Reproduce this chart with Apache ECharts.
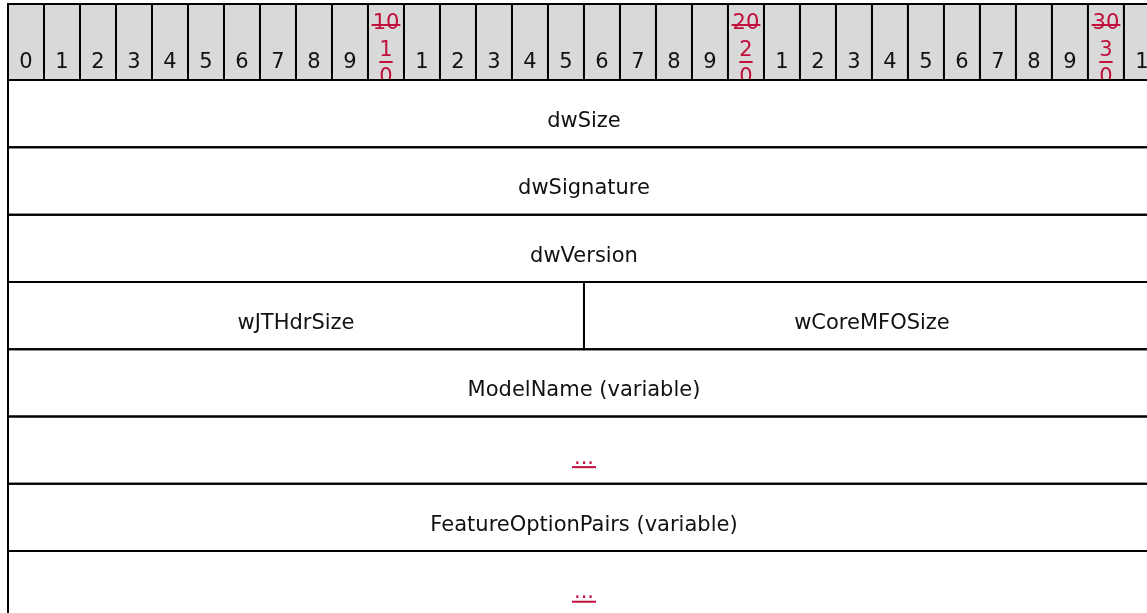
<!DOCTYPE html>
<html><head><meta charset="utf-8">
<script src="https://cdn.jsdelivr.net/npm/echarts@6/dist/echarts.min.js"></script>
<style>html,body{margin:0;padding:0;background:#fff;overflow:hidden}#c{width:1147px;height:613px}</style>
</head><body><div id="c"></div><script>
// ---- data ----
const bitLabels = ['0','1','2','3','4','5','6','7','8','9','10','1','2','3','4','5','6','7','8','9','20','1','2','3','4','5','6','7','8','9','30','1'];
const revisedBitCells = [10, 20, 30];
const fieldNames = ['dwSize','dwSignature','dwVersion','wJTHdrSize','wCoreMFOSize','ModelName (variable)','...','FeatureOptionPairs (variable)','...'];
const fieldRows = [0, 1, 2, 3, 3, 4, 5, 6, 7];
const fieldStartBits = [0, 0, 0, 0, 16, 0, 0, 0, 0];
const fieldBitWidths = [32, 32, 32, 16, 16, 32, 32, 32, 32];
const fieldIsLink = [false, false, false, false, false, false, true, false, true];

// ---- style ----
const FONT = '"DejaVu Sans", Verdana, sans-serif';
const BODY_SIZE = 21, HEAD_SIZE = 21;
const RED = '#c0103c';
const TEXT = '#111';
const HEAD_BG = '#d9d9d9';
const Y_MIN = -1.13, Y_MAX = 7.92;
const X_MAX = 31.64; // visible part of the 32-bit wide diagram

const mctx = document.createElement('canvas').getContext('2d');
function textW(t, size) { mctx.font = size + 'px ' + FONT; return mctx.measureText(t).width; }

function renderHeader(params, api) {
  const i = api.value(0);
  const label = bitLabels[i];
  const tl = api.coord([i, Y_MIN]);
  const br = api.coord([i + 1, 0]);
  const x0 = tl[0], y0 = tl[1], w = br[0] - tl[0], h = br[1] - tl[1];
  const cx = x0 + w / 2;
  const children = [{ type: 'rect', shape: { x: x0, y: y0, width: w, height: h }, style: { fill: HEAD_BG, stroke: null } }];
  const font = HEAD_SIZE + 'px ' + FONT;
  if (revisedBitCells.indexOf(i) >= 0) {
    const tw = textW(label, HEAD_SIZE);
    const l1 = y0 + 20, l2 = y0 + 47, l3 = y0 + 74;
    children.push({ type: 'text', style: { text: label, x: cx, y: l1, align: 'center', verticalAlign: 'middle', font: font, fill: RED } });
    children.push({ type: 'line', shape: { x1: cx - tw / 2 - 1, y1: l1 + 1, x2: cx + tw / 2 + 1, y2: l1 + 1 }, style: { stroke: RED, lineWidth: 2 } });
    const c1 = label.charAt(0), c2 = label.charAt(1);
    const w1 = textW(c1, HEAD_SIZE);
    children.push({ type: 'text', style: { text: c1, x: cx, y: l2, align: 'center', verticalAlign: 'middle', font: font, fill: RED } });
    children.push({ type: 'line', shape: { x1: cx - w1 / 2, y1: l2 + 11, x2: cx + w1 / 2, y2: l2 + 11 }, style: { stroke: RED, lineWidth: 2 } });
    children.push({ type: 'text', style: { text: c2, x: cx, y: l3, align: 'center', verticalAlign: 'middle', font: font, fill: RED } });
    children.push({ type: 'rect', shape: { x: x0 - 1, y: br[1], width: w + 2, height: 10 }, style: { fill: '#fff', stroke: null } });
  } else {
    children.push({ type: 'text', style: { text: label, x: cx, y: br[1] - 17, align: 'center', verticalAlign: 'middle', font: font, fill: TEXT } });
  }
  children.push({ type: 'rect', shape: { x: x0, y: y0, width: w, height: h }, style: { fill: null, stroke: '#000', lineWidth: 2 } });
  return { type: 'group', children: children };
}

function renderField(params, api) {
  const idx = params.dataIndex;
  const s = api.value(0), r = api.value(1), wb = api.value(2);
  const tl = api.coord([s, r]);
  const br = api.coord([s + wb, r + 1]);
  const x0 = tl[0], y0 = tl[1], w = br[0] - tl[0], h = br[1] - tl[1];
  const cx = x0 + w / 2, cy = y0 + h / 2 + 8;
  const name = fieldNames[idx];
  const link = fieldIsLink[idx];
  const children = [
    { type: 'rect', shape: { x: x0, y: y0, width: w, height: h }, style: { fill: null, stroke: '#000', lineWidth: 2 } },
    { type: 'text', style: { text: name, x: cx, y: cy, align: 'center', verticalAlign: 'middle', font: BODY_SIZE + 'px ' + FONT, fill: link ? RED : TEXT } }
  ];
  if (link) {
    const tw = textW(name, BODY_SIZE);
    children.push({ type: 'line', shape: { x1: cx - tw / 2 - 2, y1: cy + 9, x2: cx + tw / 2 + 2, y2: cy + 9 }, style: { stroke: RED, lineWidth: 2 } });
  }
  return { type: 'group', children: children };
}

const chart = echarts.init(document.getElementById('c'), null, { renderer: 'canvas' });
chart.setOption({
  animation: false,
  backgroundColor: '#fff',
  grid: { left: 8, right: 0, top: 4, bottom: 0 },
  xAxis: { type: 'value', min: 0, max: X_MAX, show: false },
  yAxis: { type: 'value', min: Y_MIN, max: Y_MAX, inverse: true, show: false },
  series: [
    { type: 'custom', name: 'bits', renderItem: renderHeader, data: bitLabels.map((l, i) => [i]), clip: false, silent: true },
    { type: 'custom', name: 'fields', renderItem: renderField, data: fieldNames.map((n, i) => [fieldStartBits[i], fieldRows[i], fieldBitWidths[i]]), clip: false, silent: true }
  ]
});
</script></body></html>
